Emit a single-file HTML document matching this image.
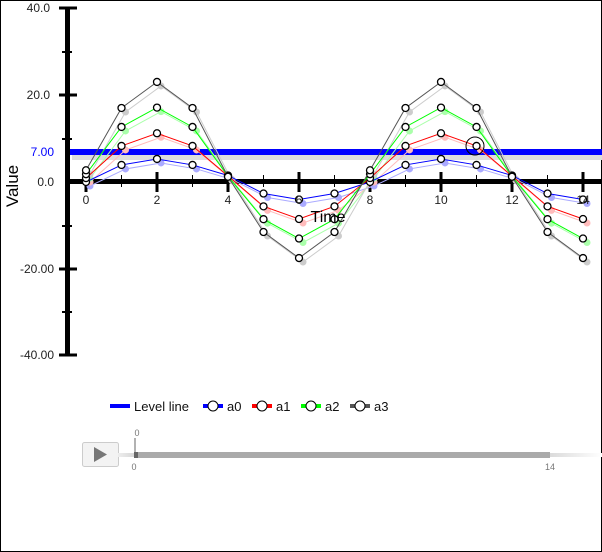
<!DOCTYPE html>
<html><head><meta charset="utf-8"><style>
body{margin:0;background:#fff}
svg{display:block;font-family:"Liberation Sans",sans-serif}
</style></head><body>
<svg id="s" width="602" height="552" xmlns="http://www.w3.org/2000/svg">
<rect x="0.5" y="0.5" width="601" height="551" fill="#fff" stroke="#000"/>
<defs><linearGradient id="g" x1="0" x2="1"><stop offset="0" stop-color="#eee"/><stop offset="0.05" stop-color="#ccc"/><stop offset="0.85" stop-color="#ccc"/><stop offset="1" stop-color="#fff"/></linearGradient></defs>
<rect x="72" y="155" width="530" height="5" fill="#ddd"/>
<rect x="67" y="149" width="535" height="6" fill="#00f"/>
<rect x="67" y="179" width="535" height="5" fill="#000"/>
<rect x="65" y="8" width="5" height="348" fill="#000"/>
<g id="d"></g>
<circle cx="475" cy="146" r="9" fill="none" stroke="#000" stroke-width="1"/>
<g font-size="12" fill="#222" text-anchor="end">
<text x="50" y="12">40.0</text><text x="50" y="99">20.0</text><text x="54" y="186">0.0</text>
<text x="54" y="273">-20.00</text><text x="54" y="359">-40.00</text>
<text x="54" y="156" fill="#00f">7.00</text>
</g>
<text x="328" y="222" font-size="16" text-anchor="middle" fill="#000">Time</text>
<text transform="translate(18,186) rotate(-90)" font-size="17" text-anchor="middle" fill="#000">Value</text>
<g id="xl" font-size="12" fill="#222" text-anchor="middle"></g>
<g font-size="13" fill="#111">
<rect x="110" y="404" width="20" height="4" fill="#00f"/><text x="134" y="411">Level line</text>
<rect x="203" y="404" width="20" height="4" fill="#00f"/><circle cx="213" cy="406" r="5" fill="#fff" stroke="#000"/><text x="227" y="411">a0</text>
<rect x="252" y="404" width="20" height="4" fill="#f00"/><circle cx="262" cy="406" r="5" fill="#fff" stroke="#000"/><text x="276" y="411">a1</text>
<rect x="301" y="404" width="20" height="4" fill="#0f0"/><circle cx="311" cy="406" r="5" fill="#fff" stroke="#000"/><text x="325" y="411">a2</text>
<rect x="350" y="404" width="20" height="4" fill="#555"/><circle cx="360" cy="406" r="5" fill="#fff" stroke="#000"/><text x="374" y="411">a3</text>
</g>
<rect x="82.5" y="442.5" width="36" height="24" rx="2" fill="#f3f3f3" stroke="#ccc"/>
<polygon points="94,447 94,462 107,454.5" fill="#777"/>
<rect x="118" y="453" width="484" height="4" fill="url(#g)"/>
<rect x="134" y="452" width="416" height="6" fill="#aaa"/>
<rect x="134" y="452" width="4" height="6" fill="#666"/>
<line x1="135" y1="438" x2="135" y2="452" stroke="#666"/>
<text x="137" y="436" font-size="9" fill="#777" text-anchor="middle">0</text>
<text x="134" y="470" font-size="9" fill="#777" text-anchor="middle">0</text>
<text x="550" y="470" font-size="9" fill="#777" text-anchor="middle">14</text>
</svg>
<script>
var X=function(x){return 86+x*35.5},Y=function(v){return 182-v*4.35};
var ns="http://www.w3.org/2000/svg",d=document.getElementById('d'),xl=document.getElementById('xl');
function el(t,a,p){var e=document.createElementNS(ns,t);for(var k in a)e.setAttribute(k,a[k]);(p||d).appendChild(e);return e}
for(var i=0;i<=14;i++){var x=X(i);
 if(i%2){el('line',{x1:x,x2:x,y1:175,y2:187,stroke:'#000','stroke-width':1});}
 else{el('line',{x1:x,x2:x,y1:172,y2:192,stroke:'#000','stroke-width':3});var t=el('text',{x:x,y:204},xl);t.textContent=i;}}
[[8,1],[52,0],[95,1],[139,0],[226,0],[269,1],[312,0],[355,1]].forEach(function(p){
 el('line',{x1:p[1]?59:62,x2:p[1]?77:72,y1:p[0],y2:p[0],stroke:'#000','stroke-width':p[1]?3:2});});
var amps=[5.3,11.2,17.1,23],cols=['#00f','#f00','#0f0','#555'],fc=['#aaf','#fbb','#afa','#ccc'];
function val(k,x){var m=x%8,v=0;
 if(m==1||m==3)v=amps[k]*0.74;if(m==5||m==7)v=-amps[k]*0.5;if(m==6)v=-amps[k]*0.76;if(m==2)v=amps[k];
 if(m==0)v=k*0.9;if(m==4)v=1.5-k*0.1;return v;}
for(var k=0;k<4;k++){var pf=[];for(var x=0;x<=14;x++)pf.push((X(x)+4)+','+(Y(val(k,x))+4));
 el('polyline',{points:pf.join(' '),fill:'none',stroke:fc[k],'stroke-width':1});
 for(var x=0;x<=14;x++)el('circle',{cx:X(x)+4,cy:Y(val(k,x))+4,r:3.5,fill:fc[k]});}
for(var k=0;k<4;k++){var p=[];for(var x=0;x<=14;x++)p.push(X(x)+','+Y(val(k,x)));
 el('polyline',{points:p.join(' '),fill:'none',stroke:cols[k],'stroke-width':1});
 for(var x=0;x<=14;x++)el('circle',{cx:X(x),cy:Y(val(k,x)),r:3.5,fill:'#fff',stroke:'#000','stroke-width':1.3});}
</script>
</body></html>
